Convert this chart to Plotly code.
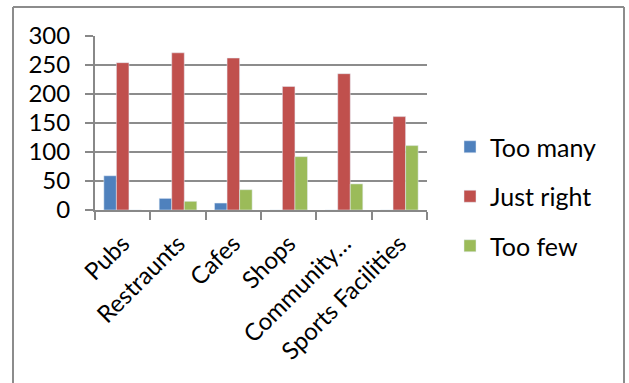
import plotly.graph_objects as go

categories = ["Pubs", "Restraunts", "Cafes", "Shops", "Community…", "Sports Facilities"]
too_many = [59, 20, 12, 0, 0, 0]
just_right = [254, 271, 262, 213, 235, 161]
too_few = [0, 15, 35, 92, 45, 111]
y_ticks = [0, 50, 100, 150, 200, 250, 300]

FONT = "Lato, Carlito, Calibri, sans-serif"

fig = go.Figure()
fig.add_trace(go.Bar(name="Too many", x=categories, y=too_many, marker_color="#4F81BD", legendgroup="a"))
fig.add_trace(go.Bar(name="Just right", x=categories, y=just_right, marker_color="#C0504D", legendgroup="b"))
fig.add_trace(go.Bar(name="Too few", x=categories, y=too_few, marker_color="#9BBB59", legendgroup="c"))

W, H = 629, 383
L, R, T, B = 95, 202, 36, 173
pw, ph = W - L - R, H - T - B

def px_x(x):
    return (x - L) / pw

def px_y(y):
    return (H - B - y) / ph

border = dict(color="#8c8c8c", width=2)
fig.update_layout(
    width=W, height=H,
    margin=dict(l=L, r=R, t=T, b=B, autoexpand=False),
    paper_bgcolor="white", plot_bgcolor="white",
    barmode="group", bargap=0.32, bargroupgap=0,
    font=dict(family=FONT, size=24, color="#000000"),
    showlegend=True,
    legend=dict(x=px_x(450), y=px_y(124), xanchor="left", yanchor="top",
                font=dict(size=25), tracegroupgap=14, bgcolor="rgba(0,0,0,0)"),
    xaxis=dict(showline=True, linecolor="#888888", linewidth=2, ticks="outside",
               tickson="boundaries", ticklen=8, tickcolor="#888888", tickwidth=2,
               tickangle=-45, showgrid=False, tickfont=dict(size=24),
               ticklabelstandoff=8),
    yaxis=dict(range=[0, 300], tickvals=y_ticks, showline=True, linecolor="#888888",
               linewidth=2, ticks="outside", ticklen=8, tickcolor="#888888", tickwidth=2,
               showgrid=True, gridcolor="#8c8c8c", gridwidth=2, zeroline=False,
               ticklabelstandoff=10, tickfont=dict(size=24)),
    shapes=[
        dict(type="line", xref="paper", yref="paper", x0=px_x(13), x1=px_x(13), y0=px_y(400), y1=px_y(7), line=border),
        dict(type="line", xref="paper", yref="paper", x0=px_x(13), x1=px_x(624), y0=px_y(7), y1=px_y(7), line=border),
        dict(type="line", xref="paper", yref="paper", x0=px_x(624), x1=px_x(624), y0=px_y(400), y1=px_y(7), line=border),
    ],
)

fig.write_html("out.html", config={"displayModeBar": False},
               post_script="document.body.style.margin='0';document.body.style.overflow='hidden';")
